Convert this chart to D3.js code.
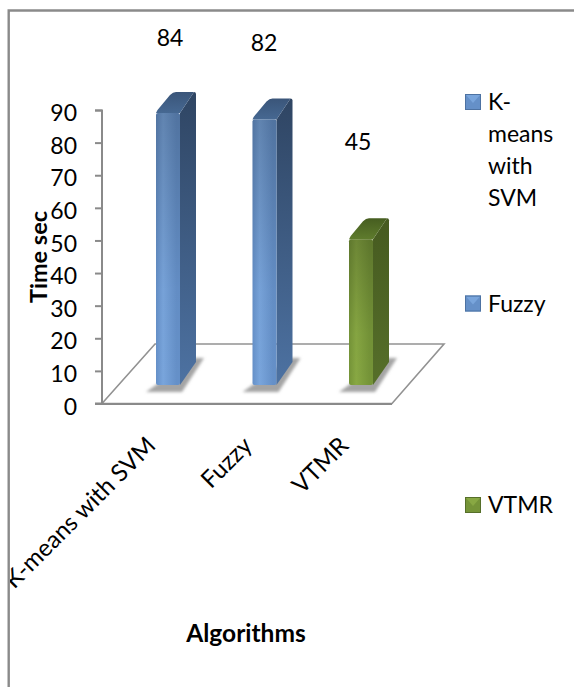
<!DOCTYPE html>
<html><head><meta charset="utf-8"><script src="https://cdnjs.cloudflare.com/ajax/libs/d3/7.9.0/d3.min.js"></script>
<style>html,body{margin:0;padding:0;background:#fff}svg{display:block}text{font-family:Lato,"Open Sans",sans-serif;fill:#000}</style></head><body><svg id="c" width="574" height="687"></svg>
<script>
const categories=["K-means with SVM","Fuzzy","VTMR"];
const values=[84,82,45];
const yTicks=[0,10,20,30,40,50,60,70,80,90];
const legendLines=[["K-","means","with","SVM"],["Fuzzy"],["VTMR"]];
const palette=[
 {l:"#79a5dc",m:"#6590c8",d:"#2f4563",e:"#4d72a2",t:"#466892",b:"#3a5579"},
 {l:"#79a5dc",m:"#6590c8",d:"#2f4563",e:"#4d72a2",t:"#466892",b:"#3a5579"},
 {l:"#88a843",m:"#759438",d:"#465a20",e:"#566f2a",t:"#5f7c2d",b:"#465d20"}];

const svg=d3.select("#c");
const defs=svg.append("defs");
palette.forEach((p,i)=>{
 const g=defs.append("linearGradient").attr("id","f"+i);
 [[0,p.m],[.3,p.l],[.85,p.m],[1,p.m]].forEach(s=>g.append("stop").attr("offset",s[0]).attr("stop-color",s[1]));
 const h=defs.append("linearGradient").attr("id","s"+i).attr("x1",0).attr("x2",0).attr("y1",0).attr("y2",1);
 [[0,p.d],[1,p.e]].forEach(s=>h.append("stop").attr("offset",s[0]).attr("stop-color",s[1]));
 const k=defs.append("linearGradient").attr("id","k"+i).attr("x1",0).attr("x2",0).attr("y1",1).attr("y2",0);
 [[0,p.t],[1,p.b]].forEach(s=>k.append("stop").attr("offset",s[0]).attr("stop-color",s[1]));
});
const shade=defs.append("linearGradient").attr("id","v").attr("x1",0).attr("x2",0).attr("y1",0).attr("y2",1);
shade.append("stop").attr("offset",0).attr("stop-color","#000").attr("stop-opacity",.2);
shade.append("stop").attr("offset",.65).attr("stop-color","#000").attr("stop-opacity",.02);
shade.append("stop").attr("offset",1).attr("stop-color","#000").attr("stop-opacity",0);
defs.append("filter").attr("id","b").attr("x","-30%").attr("y","-30%").attr("width","160%").attr("height","160%").append("feGaussianBlur").attr("stdDeviation",1.5);
defs.append("clipPath").attr("id","fr").append("rect").attr("x",10).attr("y",0).attr("width",564).attr("height",687);

const gray="#8a8a8a";
svg.append("path").attr("d","M8.7,687V10.5H574").attr("fill","none").attr("stroke",gray).attr("stroke-width",2.4);

const y=d3.scaleLinear().domain([0,90]).range([403.5,110]);
const barY=d3.scaleLinear().domain([0,84]).range([385,113]);
const xb=d3.scalePoint().domain(categories).range([156,349]);
const barW=24,dx=16,dy=21;

const floor=[[102,y(0)],[155,344],[444,344],[392,y(0)]];
svg.append("path").attr("d",d3.line()(floor)+"Z").attr("fill","#fff").attr("stroke","#929292").attr("stroke-width",1.6);

const ax=svg.append("g").attr("transform","translate(102,0)").call(d3.axisLeft(y).tickValues(yTicks).tickSize(7).tickFormat(d3.format("d")));
ax.selectAll("path,line").attr("stroke",gray).attr("stroke-width",2);
ax.select(".domain").attr("d","M-7,110.5H0V403.5H-7");
ax.selectAll("text").attr("font-size",23).attr("dy",".46em").attr("x",-25);
svg.append("line").attr("x1",95).attr("x2",392).attr("y1",404).attr("y2",404).attr("stroke",gray).attr("stroke-width",2.2);

const bars=svg.selectAll("g.bar").data(values).join("g").attr("class","bar");
bars.append("path").attr("filter","url(#b)").attr("fill","#a4a4a4")
 .attr("d",(d,i)=>{const a=xb(categories[i]);return `M${a-10},392 L${a+barW+2},392 L${a+barW+dx+8},358 L${a+barW+dx-2},358 Z`;});
bars.append("path").attr("fill",(d,i)=>`url(#s${i})`)
 .attr("d",(d,i)=>{const a=xb(categories[i]),t=barY(d);return `M${a+barW},${t} L${a+barW+dx-2},${t-dy} Q${a+barW+dx},${t-dy} ${a+barW+dx},${t-dy+2} L${a+barW+dx},${385-dy-2} L${a+barW},385 Z`;});
bars.append("path").attr("fill",(d,i)=>`url(#k${i})`)
 .attr("d",(d,i)=>{const a=xb(categories[i]),t=barY(d);return `M${a},${t} Q${a+1},${t-3} ${a+4},${t-6} L${a+14},${t-dy+3} Q${a+17},${t-dy} ${a+20},${t-dy} L${a+barW+dx-2},${t-dy} L${a+barW},${t} Z`;});
bars.append("rect").attr("x",(d,i)=>xb(categories[i])).attr("y",d=>barY(d)).attr("width",barW).attr("height",d=>385-barY(d)).attr("rx",2).attr("fill",(d,i)=>`url(#f${i})`);
bars.append("rect").attr("x",(d,i)=>xb(categories[i])).attr("y",d=>barY(d)).attr("width",barW).attr("height",d=>385-barY(d)).attr("rx",2).attr("fill","url(#v)");

const lx=d3.scalePoint().domain(categories).range([170,358]);
const ly=d3.scaleLinear().domain([84,45]).range([38,142]);
svg.selectAll("text.val").data(values).join("text").attr("class","val").attr("x",(d,i)=>lx(categories[i])).attr("y",d=>ly(d)+8).attr("text-anchor","middle").attr("font-size",23).text(d=>d);

const cx=d3.scalePoint().domain(categories).range([157,350]);
const cw=svg.append("g").attr("clip-path","url(#fr)");
cw.selectAll("text").data(categories).join("text").attr("text-anchor","end").attr("font-size",24)
 .attr("transform",d=>`translate(${cx(d)},447) rotate(-45)`).text(d=>d);

svg.append("text").attr("transform","translate(47,257) rotate(-90)").attr("text-anchor","middle").attr("font-size",23.5).attr("font-weight",700).text("Time sec");
svg.append("text").attr("x",246).attr("y",642).attr("text-anchor","middle").attr("font-size",24.5).attr("font-weight",700).text("Algorithms");

const ley=d3.scalePoint().domain(categories).range([102,505]);
const lg=svg.selectAll("g.leg").data(categories).join("g").attr("class","leg").attr("transform",d=>`translate(465,${ley(d)})`);
lg.append("rect").attr("y",-8).attr("width",16).attr("height",16).attr("fill",(d,i)=>palette[i].m);
lg.append("path").attr("d","M1,-7H15L8,1Z").attr("fill",(d,i)=>palette[i].l);
lg.append("rect").attr("x",.5).attr("y",-7.5).attr("width",15).attr("height",15).attr("fill","none").attr("stroke",(d,i)=>palette[i].e);
lg.each(function(d,i){
 d3.select(this).selectAll("text").data(legendLines[i]).join("text").attr("x",23).attr("y",(t,j)=>8+j*32).attr("font-size",23).text(t=>t);
});
</script></body></html>
